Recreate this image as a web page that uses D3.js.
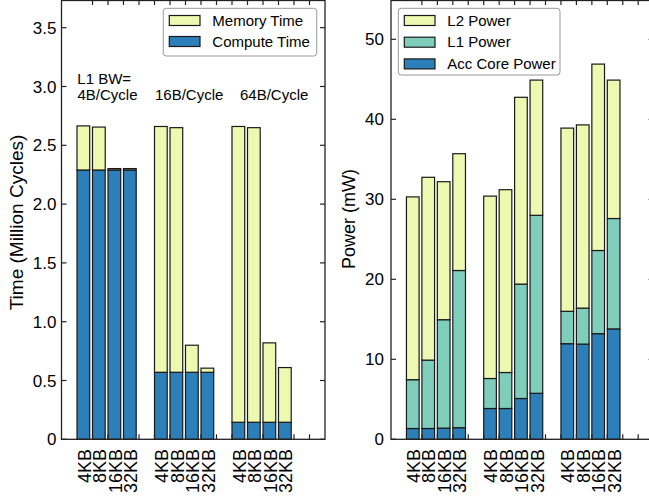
<!DOCTYPE html>
<html><head><meta charset="utf-8">
<script src="https://cdn.jsdelivr.net/npm/d3@7"></script>
<style>
body{margin:0;background:#fff}
svg{display:block}
text{font-family:"Liberation Sans", Arial, Helvetica, sans-serif; fill:#000}
</style>
</head><body>
<svg id="c" width="649" height="496"></svg>
<script>
// ---------- data ----------
const categories = ["4KB","8KB","16KB","32KB","", "4KB","8KB","16KB","32KB","", "4KB","8KB","16KB","32KB",""];
const computeTime = [2.29,2.29,2.29,2.29,0, 0.57,0.57,0.57,0.57,0, 0.145,0.145,0.145,0.145,0];
const memoryTime  = [0.375,0.365,0.012,0.012,0, 2.09,2.08,0.23,0.035,0, 2.515,2.505,0.675,0.465,0];
const timeTicks = [0,0.5,1,1.5,2,2.5,3,3.5];
const timeTickLabels = ["0","0.5","1.0","1.5","2.0","2.5","3.0","3.5"];
const corePower = [1.35,1.35,1.4,1.45,0, 3.85,3.85,5.1,5.75,0, 11.95,11.9,13.2,13.8,0];
const l1Power   = [6.1,8.55,13.55,19.65,0, 3.75,4.5,14.3,22.25,0, 4.05,4.5,10.4,13.8,0];
const l2Power   = [22.85,22.85,17.25,14.6,0, 22.8,22.85,23.35,16.9,0, 22.9,22.9,23.3,17.3,0];
const powerTicks = [0,10,20,30,40,50];
const powerTickLabels = ["0","10","20","30","40","50"];
const bwLabels = ["4B/Cycle","16B/Cycle","64B/Cycle"];
const bwPrefix = "L1 BW=";
const timeLegend = ["Memory Time","Compute Time"];
const powerLegend = ["L2 Power","L1 Power","Acc Core Power"];

const C_YEL = "#edf8b1", C_TEAL = "#7fcdbb", C_BLUE = "#2c7fb8";
const svg = d3.select("#c");
const BASE = 439.3;

function panel(o){
  const g = svg.append("g");
  const x = d3.scaleLinear().domain([0,17]).range([o.x0,o.x1]);
  const y = d3.scaleLinear().domain([0,o.yMax]).range([BASE,0]);
  const rows = categories.map((c,i)=>{const r={i}; o.series.forEach(s=>r[s.key]=s.values[i]); return r;});
  const stack = d3.stack().keys(o.series.map(s=>s.key))(rows);
  const bw = x(1.82)-x(1);
  stack.forEach((layer,li)=>{
    g.append("g").selectAll("rect").data(layer).join("rect")
      .attr("x",d=>x(d.data.i+1)).attr("width",bw)
      .attr("y",d=>y(d[1])).attr("height",d=>Math.max(0,y(d[0])-y(d[1])))
      .attr("fill",o.series[li].color).attr("stroke","#1a1a1a").attr("stroke-width",1.2);
  });
  // frame
  g.append("rect").attr("x",o.x0).attr("y",0.5).attr("width",o.x1-o.x0).attr("height",BASE-0.5)
    .attr("fill","none").attr("stroke","#222").attr("stroke-width",1.3);
  // x ticks
  const tk = g.append("g");
  categories.forEach((c,i)=>{
    const tx = x(i+2);
    tk.append("line").attr("x1",tx).attr("x2",tx).attr("y1",BASE).attr("y2",BASE-5).attr("stroke","#222").attr("stroke-width",1.2);
    tk.append("line").attr("x1",tx).attr("x2",tx).attr("y1",0).attr("y2",5).attr("stroke","#222").attr("stroke-width",1.2);
    if(c) tk.append("text").attr("transform",`translate(${tx-2},449) rotate(-90)`)
      .attr("text-anchor","end").attr("font-size",18).text(c);
  });
  // y ticks
  o.ticks.forEach((t,k)=>{
    const ty = y(t);
    tk.append("line").attr("x1",o.x0).attr("x2",o.x0+5).attr("y1",ty).attr("y2",ty).attr("stroke","#222").attr("stroke-width",1.2);
    tk.append("line").attr("x1",o.x1).attr("x2",o.x1-5).attr("y1",ty).attr("y2",ty).attr("stroke","#222").attr("stroke-width",1.2);
    tk.append("text").attr("x",o.x0-o.labGap).attr("y",ty).attr("dy","0.36em")
      .attr("text-anchor","end").attr("font-size",17).text(o.tickLabels[k]);
  });
  g.append("text").attr("transform",`translate(${o.ylx},${o.yly}) rotate(-90)`)
    .attr("text-anchor","middle").attr("font-size",o.ylfs).text(o.ylabel);
  // legend
  const L = o.legend;
  g.append("rect").attr("x",L.x).attr("y",L.y).attr("width",L.w).attr("height",L.h).attr("rx",3)
    .attr("fill","#fff").attr("stroke","#999").attr("stroke-width",1);
  L.items.forEach((it,k)=>{
    const py = L.y + 7.2 + k*L.step;
    g.append("rect").attr("x",L.x+6).attr("y",py).attr("width",30.7).attr("height",10)
      .attr("fill",it.color).attr("stroke","#1a1a1a").attr("stroke-width",1.2);
    g.append("text").attr("x",L.x+49).attr("y",py+10).attr("font-size",15).text(it.name);
  });
  return {x,y,g};
}

const left = panel({
  x0:61.5, x1:325, yMax:439.3/117.6,
  series:[{key:"compute",values:computeTime,color:C_BLUE},{key:"memory",values:memoryTime,color:C_YEL}],
  ticks:timeTicks, tickLabels:timeTickLabels, labGap:5,
  ylabel:"Time (Million Cycles)", ylx:22.7, yly:222.5, ylfs:19,
  legend:{x:163.3,y:8.3,w:153.4,h:47.7,step:21,items:[{name:timeLegend[0],color:C_YEL},{name:timeLegend[1],color:C_BLUE}]}
});
// bandwidth annotations
left.g.append("text").attr("x",left.x(1)+0.3).attr("y",84).attr("font-size",15).text(bwPrefix);
[1,6,11].forEach((s,k)=>{
  left.g.append("text").attr("x",left.x(s)+(k===2?8:0.5)).attr("y",100).attr("font-size",15).text(bwLabels[k]);
});

panel({
  x0:391, x1:391+17*15.45, yMax:439.3/8,
  series:[{key:"core",values:corePower,color:C_BLUE},{key:"l1",values:l1Power,color:C_TEAL},{key:"l2",values:l2Power,color:C_YEL}],
  ticks:powerTicks, tickLabels:powerTickLabels, labGap:7,
  ylabel:"Power (mW)", ylx:355, yly:219, ylfs:18,
  legend:{x:398.3,y:8.3,w:161.7,h:66.7,step:21.7,items:[{name:powerLegend[0],color:C_YEL},{name:powerLegend[1],color:C_TEAL},{name:powerLegend[2],color:C_BLUE}]}
});
</script>
</body></html>
